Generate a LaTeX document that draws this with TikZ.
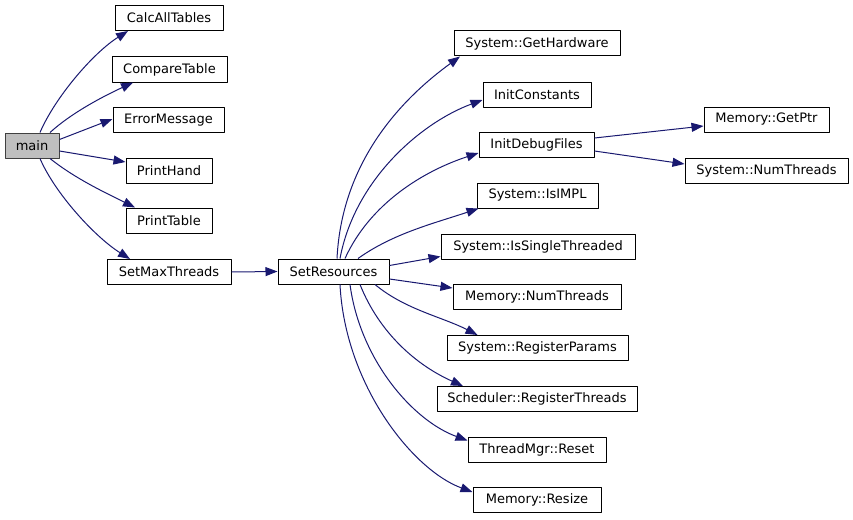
\documentclass[tikz,border=0pt]{standalone}
\usepackage{fontspec}
\setmainfont{DejaVu Sans}
\usetikzlibrary{arrows.meta}
\definecolor{edgeblue}{HTML}{191970}
\tikzset{
  fn/.style={draw=black, line width=1pt, rectangle, minimum height=25pt, inner sep=1pt, font=\fontsize{13}{15}\selectfont},
  root/.style={fn, fill=gray!50, draw=black!75},
  call/.style={draw=edgeblue, line width=1pt, -{Triangle[length=12pt, width=9pt]}}
}
\begin{document}
\begin{tikzpicture}[x=1pt, y=-1pt, line join=round]
  \useasboundingbox (0,0) rectangle (853,519);
  % ====== KHỐI GỌI TỪ MAIN ======
  \node[root, minimum width=54pt] (main) at (32,145.5) {main};
  \node[fn, minimum width=108pt] (calc) at (169,18) {CalcAllTables};
  \node[fn, minimum width=115pt] (compare) at (169.5,69.5) {CompareTable};
  \node[fn, minimum width=111pt] (error) at (168.5,120) {ErrorMessage};
  \node[fn, minimum width=86pt] (phand) at (169,170.5) {PrintHand};
  \node[fn, minimum width=86pt] (ptable) at (169,220.5) {PrintTable};
  \node[fn, minimum width=124pt] (setmax) at (169,272) {SetMaxThreads};
  \node[fn, minimum width=111pt] (setres) at (333.5,271.5) {SetResources};

  % ====== KHỐI GỌI TỪ SETRESOURCES ======
  \node[fn, minimum width=166pt] (gethw) at (537,43.5) {System::GetHardware};
  \node[fn, minimum width=108pt] (initc) at (537,94.5) {InitConstants};
  \node[fn, minimum width=115pt] (initd) at (536.5,145) {InitDebugFiles};
  \node[fn, minimum width=121pt] (isimpl) at (537.5,195.5) {System::IsIMPL};
  \node[fn, minimum width=194pt] (issingle) at (538,246.5) {System::IsSingleThreaded};
  \node[fn, minimum width=168pt] (memnum) at (537,297) {Memory::NumThreads};
  \node[fn, minimum width=181pt] (regp) at (537.5,348) {System::RegisterParams};
  \node[fn, minimum width=200pt] (regt) at (537,399) {Scheduler::RegisterThreads};
  \node[fn, minimum width=138pt] (tmreset) at (537,449.5) {ThreadMgr::Reset};
  \node[fn, minimum width=128pt] (memresize) at (537,500) {Memory::Resize};

  % ====== KHỐI GỌI TỪ INITDEBUGFILES ======
  \node[fn, minimum width=125pt] (getptr) at (766.5,119.5) {Memory::GetPtr};
  \node[fn, minimum width=163pt] (sysnum) at (766.5,170.5) {System::NumThreads};

  % Cạnh từ main
  \draw[call] ([xshift=8pt]main.north) .. controls +(15,-35) and +(-35,22) .. ([xshift=-41pt]calc.south);
  \draw[call] ([xshift=18pt]main.north) .. controls +(22,-20) and +(-30,14) .. ([xshift=-36.5pt]compare.south);
  \draw[call] ([yshift=6pt]main.east) -- ([yshift=1pt]error.west);
  \draw[call] ([yshift=-5.5pt]main.east) -- ([yshift=8.5pt]phand.west);
  \draw[call] ([xshift=18pt]main.south) .. controls +(25,20) and +(-30,-15) .. ([xshift=-34pt]ptable.north);
  \draw[call] ([xshift=8pt]main.south) .. controls +(15,35) and +(-35,-22) .. ([xshift=-39pt]setmax.north);
  \draw[call] (setmax.east) -- (setres.west);

  % Cạnh từ SetResources
  \draw[call] ([xshift=3.5pt]setres.north) .. controls +(5,-100) and +(-55,40) .. ([xshift=-77pt]gethw.south);
  \draw[call] ([xshift=6.5pt]setres.north) .. controls +(15,-80) and +(-60,22) .. ([yshift=-5.5pt]initc.west);
  \draw[call] ([xshift=11.5pt]setres.north) .. controls +(25,-55) and +(-55,18) .. ([yshift=-8pt]initd.west);
  \draw[call] ([xshift=24.5pt]setres.north) .. controls +(35,-25) and +(-45,15) .. ([xshift=-59pt]isimpl.south);
  \draw[call] ([yshift=6pt]setres.east) -- ([yshift=-10pt]issingle.west);
  \draw[call] ([yshift=-7.5pt]setres.east) -- ([yshift=9pt]memnum.west);
  \draw[call] ([xshift=41.5pt]setres.south) .. controls +(30,25) and +(-35,-18) .. ([xshift=-60pt]regp.north);
  \draw[call] ([xshift=26.5pt]setres.south) .. controls +(20,50) and +(-45,-20) .. ([xshift=-74pt]regt.north);
  \draw[call] ([xshift=16.5pt]setres.south) .. controls +(10,75) and +(-55,-20) .. ([yshift=9pt]tmreset.west);
  \draw[call] ([xshift=6.5pt]setres.south) .. controls +(5,100) and +(-60,-22) .. ([yshift=8pt]memresize.west);

  % Cạnh từ InitDebugFiles
  \draw[call] ([yshift=7pt]initd.east) -- ([yshift=-6.5pt]getptr.west);
  \draw[call] ([yshift=-6pt]initd.east) -- ([yshift=6.5pt]sysnum.west);
\end{tikzpicture}
\end{document}
